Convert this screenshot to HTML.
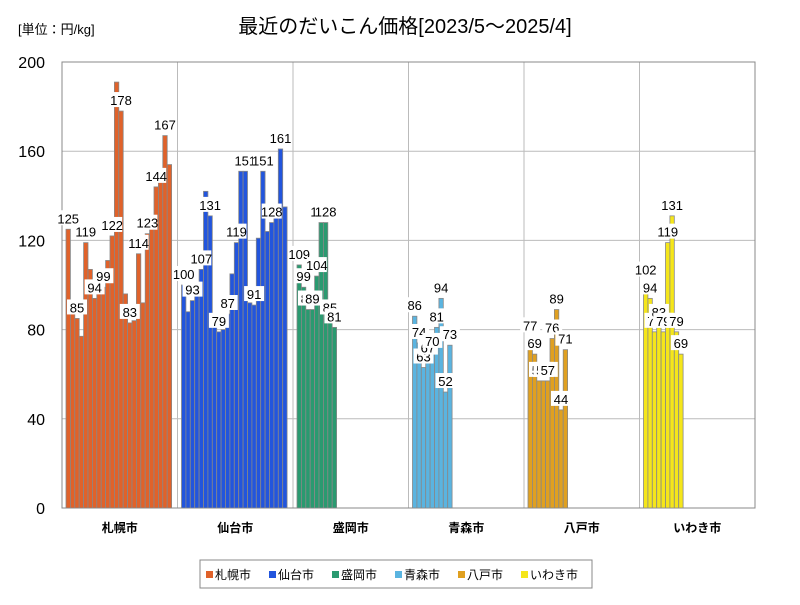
<!DOCTYPE html>
<html><head><meta charset="utf-8">
<style>
body{margin:0;background:#fff;font-family:"Liberation Sans","Noto Sans CJK JP",sans-serif;}
svg text{font-family:"Liberation Sans","Noto Sans CJK JP",sans-serif;}
</style></head>
<body>
<svg id="chart" width="800" height="600">
<text x="18" y="34" font-size="13">[単位：円/kg]</text>
<text x="405" y="33" font-size="20" text-anchor="middle">最近のだいこん価格[2023/5～2025/4]</text>
<g id="grid"></g>
<rect x="62" y="62" width="693" height="446" fill="none" stroke="#888"/>
<g id="bars"></g>
<g id="labels"></g>
<g id="axes"></g>
<g id="legend"></g>
</svg>
<script>
const categories = ["札幌市","仙台市","盛岡市","青森市","八戸市","いわき市"];
const colors = ["#e0622a","#2255dd","#2a9a70","#5ab4e0","#e0a020","#f5e61a"];
const sapporo = [125,88,85,77,119,107,94,97,99,111,122,191,178,96,83,84,114,92,123,131,144,152,167,154];
const sendai = [100,88,93,100,107,142,131,83,79,80,87,105,119,151,151,92,91,121,151,124,128,130,161,135];
const morioka = [109,99,89,89,104,128,128,85,81];
const aomori = [86,74,63,67,70,81,94,52,73];
const hachinohe = [77,69,57,57,57,76,89,44,71];
const iwaki = [102,94,79,83,79,119,131,79,69];
const series = [sapporo,sendai,morioka,aomori,hachinohe,iwaki];
const yTicks = [0,40,80,120,160,200];

const NS="http://www.w3.org/2000/svg";
const X0=62,X1=755,Y0=508,Y1=62,YMAX=200;
const groupW=(X1-X0)/categories.length;
const step=4.4;
function y(v){return Y0-(v/YMAX)*(Y0-Y1);}
function gx(i){return X0+i*groupW;}
function mk(tag,attrs,parent){const e=document.createElementNS(NS,tag);for(const k in attrs)e.setAttribute(k,attrs[k]);parent.appendChild(e);return e;}

const grid=document.getElementById('grid'),axes=document.getElementById('axes');
yTicks.forEach(t=>{
  if(t>0&&t<YMAX){const l=mk('line',{x1:X0,x2:X1,y1:y(t),y2:y(t),stroke:'#bbb'},grid);
  
  }
  const tx=mk('text',{x:45,y:y(t)+6,'font-size':16,'text-anchor':'end'},axes);
  tx.textContent=t;
  
  
});
categories.forEach((c,i)=>{
  if(i>0){const l=mk('line',{x1:gx(i),x2:gx(i),y1:Y1,y2:Y0,stroke:'#bbb'},grid);
  
  }
  const tx=mk('text',{x:gx(i)+groupW/2,y:532,'font-size':12,'font-weight':'bold','text-anchor':'middle'},axes);
  tx.textContent=c;
  
  
});
const bars=document.getElementById('bars'),labels=document.getElementById('labels');
series.forEach((s,i)=>{
  s.forEach((v,j)=>{
    const x=gx(i)+4+j*step;
    const r=mk('rect',{x:x,y:y(v),width:step,height:Y0-y(v),fill:colors[i],stroke:'#888','stroke-width':0.8},bars);
    
    
    if(j%2===0||s.length<12){
      const lx=x+step/2, ly=y(v)-6;
      const bg=mk('rect',{x:lx-10,y:ly-13,width:20,height:15,fill:'#fff'},labels);
      
      
      const t=mk('text',{x:lx,y:ly,'font-size':13,'text-anchor':'middle'},labels);
      t.textContent=v;
      
      
    }
  });
});
const lg=document.getElementById('legend');
const box=mk('rect',{x:200,y:560,width:392,height:28,fill:'#fff',stroke:'#888'},lg);


let lx=206;
const lw=[58,58,58,58,58,74];
categories.forEach((c,i)=>{
  const sw=mk('rect',{x:lx,y:571,width:7,height:7,fill:colors[i]},lg);
  
  
  const t=mk('text',{x:lx+9,y:579,'font-size':12},lg);
  t.textContent=c;
  
  
  lx+=lw[i]+5;
});
</script>
</body></html>
